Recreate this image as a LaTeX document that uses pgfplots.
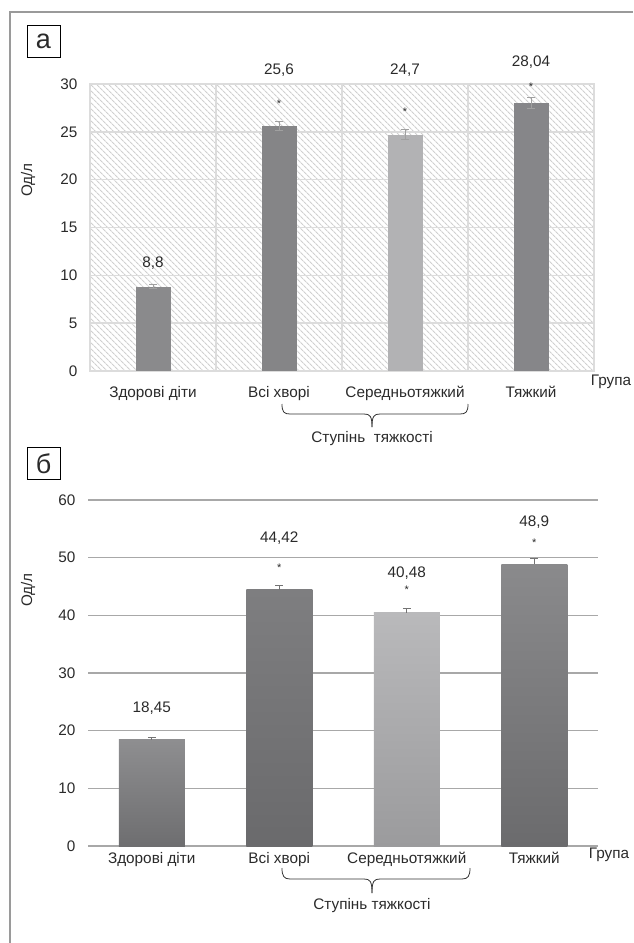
\documentclass[border=0pt]{standalone}
\usepackage{fontspec}
\setmainfont{Liberation Sans}
\usepackage{pgfplots}
\pgfplotsset{compat=1.18}
\usetikzlibrary{patterns.meta}
\definecolor{framec}{HTML}{9A9A9A}
\definecolor{gridA}{HTML}{DCDCDC}
\definecolor{hatch}{HTML}{D0D0D0}
\definecolor{gridB}{HTML}{A8A8A8}
\definecolor{errc}{HTML}{A0A0A0}
\definecolor{aone}{HTML}{8A8A8C}
\definecolor{atwo}{HTML}{858587}
\definecolor{athree}{HTML}{B2B2B4}
\definecolor{afour}{HTML}{868689}
\definecolor{bonetop}{HTML}{8E8E90}
\definecolor{bonebot}{HTML}{6E6E70}
\definecolor{btwotop}{HTML}{7E7E80}
\definecolor{btwobot}{HTML}{6A6A6C}
\definecolor{bthreetop}{HTML}{B9B9BB}
\definecolor{bthreebot}{HTML}{9B9B9D}
\definecolor{bfourtop}{HTML}{8A8A8C}
\definecolor{bfourbot}{HTML}{6B6B6D}
\definecolor{txt}{HTML}{2A2A2A}
\newcommand{\fs}{\fontsize{15.3}{17}\selectfont}
\newcommand{\st}{\fontsize{11}{11}\selectfont}
\begin{document}
\begin{tikzpicture}[every node/.style={text=txt}]
\useasboundingbox (0,0) rectangle (633pt,-943pt);
\draw[framec, line width=2.5pt] (10pt,-943pt) -- (10pt,-12pt) -- (633pt,-12pt);

% ---------- panel a ----------
\node[draw=black, line width=0.8pt, minimum width=33pt, minimum height=32pt, inner sep=0pt, font=\fontsize{27}{27}\selectfont] at (43.5pt,-41pt) {а};
\begin{axis}[
  at={(90pt,-371pt)}, anchor=south west, scale only axis,
  width=504pt, height=287pt,
  xmin=-0.5, xmax=3.5, ymin=0, ymax=30,
  ytick={0,5,...,30},
  xtick={0,1,2,3},
  xticklabels={Здорові діти, Всі хворі, Середньотяжкий, Тяжкий},
  minor xtick={0.5,1.5,2.5},
  ymajorgrids, xminorgrids,
  major grid style={gridA, line width=1.5pt},
  minor grid style={gridA, line width=1.5pt},
  axis line style={gridA, line width=1.5pt},
  major tick length=0pt, minor tick length=0pt,
  tick style={draw=none},
  axis background/.style={pattern={Lines[angle=-45,distance=4pt,line width=1.1pt]}, pattern color=hatch},
  ticklabel style={font=\fs, text=txt},
  yticklabel style={xshift=-9pt},
  xticklabel style={yshift=-12pt},
  /pgf/number format/assume math mode=true,
  clip=false,
]
\addplot[ybar, bar width=35pt, bar shift=0pt, fill=aone, draw=none] coordinates {(0,8.8)};
\addplot[ybar, bar width=35pt, bar shift=0pt, fill=atwo, draw=none] coordinates {(1,25.6)};
\addplot[ybar, bar width=35pt, bar shift=0pt, fill=athree, draw=none] coordinates {(2,24.7)};
\addplot[ybar, bar width=35pt, bar shift=0pt, fill=afour, draw=none] coordinates {(3,28.04)};
\addplot[draw=none, mark=none, forget plot,
  error bars/.cd, y dir=both, y explicit,
  error bar style={errc, line width=0.9pt},
  error mark options={errc, rotate=90, mark size=4pt, line width=0.9pt}]
  coordinates {(0,8.8) +- (0,0.2) (1,25.6) +- (0,0.5) (2,24.7) +- (0,0.5) (3,28.04) +- (0,0.55)};
\node[font=\fs] at (axis cs:0,11.3) {8,8};
\node[font=\fs] at (axis cs:1,31.5) {25,6};
\node[font=\fs] at (axis cs:2,31.5) {24,7};
\node[font=\fs] at (axis cs:3,32.3) {28,04};
\node[font=\st] at (axis cs:1,27.9) {*};
\node[font=\st] at (axis cs:2,27.1) {*};
\node[font=\st] at (axis cs:3,29.7) {*};
\end{axis}
\node[rotate=90, font=\fs] at (28pt,-180pt) {Од/л};
\node[font=\fs] at (611pt,-382pt) {Група};
\draw[black!80, line width=0.8pt] (282pt,-404pt) .. controls (282pt,-412pt) and (284pt,-414pt) .. (290pt,-414pt) -- (364pt,-414pt) .. controls (370pt,-414pt) and (372pt,-416pt) .. (372pt,-427pt);
\draw[black!80, line width=0.8pt] (468pt,-404pt) .. controls (468pt,-412pt) and (466pt,-414pt) .. (460pt,-414pt) -- (380pt,-414pt) .. controls (374pt,-414pt) and (372pt,-416pt) .. (372pt,-427pt);
\node[font=\fs] at (372pt,-439pt) {Ступінь\ \ тяжкості};

% ---------- panel b ----------
\node[draw=black, line width=0.8pt, minimum width=33pt, minimum height=32pt, inner sep=0pt, font=\fontsize{27}{27}\selectfont] at (43.5pt,-463.5pt) {б};
\begin{axis}[
  at={(88pt,-846pt)}, anchor=south west, scale only axis,
  width=510pt, height=346pt,
  xmin=-0.5, xmax=3.5, ymin=0, ymax=60,
  ytick={0,10,...,60},
  xtick={0,1,2,3},
  xticklabels={Здорові діти, Всі хворі, Середньотяжкий, Тяжкий},
  ymajorgrids,
  major grid style={gridB, line width=1.2pt},
  axis x line*=bottom, axis y line*=left,
  x axis line style={gridB, line width=1.6pt, -},
  y axis line style={draw=none, -},
  major tick length=0pt,
  tick style={draw=none},
  ticklabel style={font=\fs, text=txt},
  yticklabel style={xshift=-9pt},
  xticklabel style={yshift=-3pt},
  /pgf/number format/assume math mode=true,
  clip=false,
]
\addplot[ybar, bar width=66pt, bar shift=0pt, draw=none, top color=bonetop, bottom color=bonebot] coordinates {(0,18.45)};
\addplot[ybar, bar width=66pt, bar shift=0pt, draw=none, top color=btwotop, bottom color=btwobot] coordinates {(1,44.42)};
\addplot[ybar, bar width=66pt, bar shift=0pt, draw=none, top color=bthreetop, bottom color=bthreebot] coordinates {(2,40.48)};
\addplot[ybar, bar width=66pt, bar shift=0pt, draw=none, top color=bfourtop, bottom color=bfourbot] coordinates {(3,48.9)};
\addplot[draw=none, mark=none, forget plot,
  error bars/.cd, y dir=plus, y explicit,
  error bar style={black!55, line width=0.9pt},
  error mark options={black!55, rotate=90, mark size=4pt, line width=0.9pt}]
  coordinates {(0,18.45) +- (0,0.35) (1,44.42) +- (0,0.8) (2,40.48) +- (0,0.8) (3,48.9) +- (0,1.0)};
\node[font=\fs] at (axis cs:0,23.9) {18,45};
\node[font=\fs] at (axis cs:1,53.4) {44,42};
\node[font=\fs] at (axis cs:2,47.3) {40,48};
\node[font=\fs] at (axis cs:3,56.2) {48,9};
\node[font=\st] at (axis cs:1,48.2) {*};
\node[font=\st] at (axis cs:2,44.4) {*};
\node[font=\st] at (axis cs:3,52.6) {*};
\end{axis}
\node[rotate=90, font=\fs] at (28pt,-590pt) {Од/л};
\node[font=\fs] at (609pt,-855pt) {Група};
\draw[black!80, line width=0.8pt] (282pt,-868pt) .. controls (282pt,-876pt) and (284pt,-879pt) .. (290pt,-879pt) -- (364pt,-879pt) .. controls (370pt,-879pt) and (372pt,-881pt) .. (372pt,-893pt);
\draw[black!80, line width=0.8pt] (470pt,-868pt) .. controls (470pt,-876pt) and (468pt,-879pt) .. (462pt,-879pt) -- (380pt,-879pt) .. controls (374pt,-879pt) and (372pt,-881pt) .. (372pt,-893pt);
\node[font=\fs] at (372pt,-906pt) {Ступінь тяжкості};
\end{tikzpicture}
\end{document}
